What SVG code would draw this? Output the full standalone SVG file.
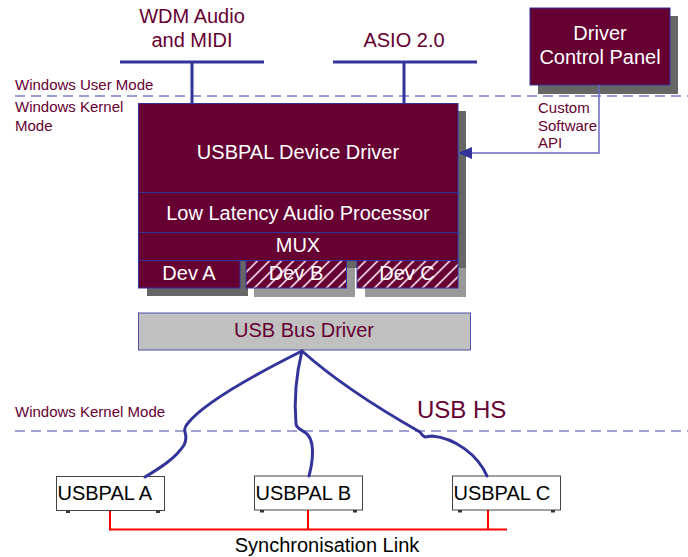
<svg xmlns="http://www.w3.org/2000/svg" width="688" height="557" viewBox="0 0 688 557">
<style>
.lbl{font-family:"Liberation Sans",Arial,sans-serif;fill:#660033}
.wt{font-family:"Liberation Sans",Arial,sans-serif;fill:#ffffff;font-size:20px;text-anchor:middle}
.bk{font-family:"Liberation Sans",Arial,sans-serif;fill:#000000;font-size:20px}
.blk{fill:#660033;stroke:#333399;stroke-width:1}
.sd{fill:#666666}
.sl{fill:#999999}
.bus{stroke:#333399;stroke-width:3;fill:none}
.usb{stroke:#333399;stroke-width:3;fill:none;stroke-linecap:round}
.pal{fill:#ffffff;stroke:#444444;stroke-width:1}
.foot{fill:#333333}
.sync{stroke:#ff0000;stroke-width:2;fill:none}
</style>
<defs>
<pattern id="hatch" patternUnits="userSpaceOnUse" width="8.5" height="8.5" patternTransform="rotate(45)">
<rect width="8.5" height="8.5" fill="#660033"/>
<line x1="1" y1="0" x2="1" y2="8.5" stroke="#e8c8d8" stroke-width="1.8"/>
</pattern>
<marker id="arr" markerWidth="14" markerHeight="12" refX="14" refY="6" orient="auto" markerUnits="userSpaceOnUse">
<path d="M0,0 L14,6 L0,12 Z" fill="#333399"/>
</marker>
</defs>
<rect width="688" height="557" fill="#ffffff"/>

<g id="mode-lines">
<line x1="15" y1="96" x2="688" y2="96" stroke="#3838a8" stroke-width="1" stroke-dasharray="10,6"/>
<line x1="15" y1="431" x2="688" y2="431" stroke="#8484c4" stroke-width="1.5" stroke-dasharray="10,6"/>
<text class="lbl" x="15" y="90" font-size="15">Windows User Mode</text>
<text class="lbl" x="15" y="112" font-size="15">Windows Kernel</text>
<text class="lbl" x="15" y="131" font-size="15">Mode</text>
<text class="lbl" x="15" y="417" font-size="15">Windows Kernel Mode</text>
<text class="lbl" x="417" y="418" font-size="24">USB HS</text>
</g>

<g id="wdm">
<text class="lbl" x="192" y="23" font-size="20" text-anchor="middle">WDM Audio</text>
<text class="lbl" x="192" y="47" font-size="20" text-anchor="middle">and MIDI</text>
</g>
<g id="asio">
<text class="lbl" x="404" y="47" font-size="20" text-anchor="middle">ASIO 2.0</text>
</g>

<g id="control-panel">
<rect class="sd" x="538" y="16" width="140" height="78"/>
<rect class="blk" x="530" y="8" width="140" height="77"/>
<text class="wt" x="600" y="40">Driver</text>
<text class="wt" x="600" y="64">Control Panel</text>
</g>

<g id="device-driver">
<rect class="sd" x="146" y="111" width="320" height="157"/>
<rect class="sd" x="147" y="268" width="101" height="28"/>
<rect class="sl" x="254" y="268" width="101" height="29"/>
<rect class="sl" x="365" y="268" width="101" height="29"/>
<rect class="blk" x="138.5" y="103.5" width="319.5" height="89"/>
<text class="wt" x="298" y="159">USBPAL Device Driver</text>
</g>
<g id="llap">
<rect class="blk" x="138.5" y="192.5" width="319.5" height="40"/>
<text class="wt" x="298" y="220">Low Latency Audio Processor</text>
</g>
<g id="mux">
<rect class="blk" x="138.5" y="232.5" width="319.5" height="28"/>
<text class="wt" x="298" y="251.5">MUX</text>
</g>
<g id="dev-a">
<rect class="blk" x="138.5" y="260.5" width="101.5" height="27.5"/>
<text class="wt" x="189" y="280">Dev A</text>
</g>
<g id="dev-b">
<rect x="246" y="260.5" width="100.5" height="27.5" fill="url(#hatch)" stroke="#333399" stroke-width="1"/>
<text class="wt" x="296" y="280">Dev B</text>
</g>
<g id="dev-c">
<rect x="357" y="260.5" width="101" height="27.5" fill="url(#hatch)" stroke="#333399" stroke-width="1"/>
<text class="wt" x="407" y="280">Dev C</text>
</g>

<g id="usb-bus-driver">
<rect x="138.5" y="313" width="332" height="37" fill="#c0c0c0" stroke="#5050a8" stroke-width="1"/>
<text class="lbl" x="304" y="337" font-size="20" text-anchor="middle">USB Bus Driver</text>
</g>

<g id="usbpal-a">
<rect class="pal" x="56.5" y="476.5" width="108" height="34"/>
<rect class="foot" x="66" y="510.5" width="4" height="2.5"/>
<rect class="foot" x="156" y="510.5" width="4" height="2.5"/>
<text class="bk" x="57.5" y="500">USBPAL A</text>
</g>
<g id="usbpal-b">
<rect class="pal" x="254.5" y="476" width="108" height="34"/>
<rect class="foot" x="260" y="510" width="4" height="2.5"/>
<rect class="foot" x="353" y="510" width="4" height="2.5"/>
<text class="bk" x="255.5" y="499.5">USBPAL B</text>
</g>
<g id="usbpal-c">
<rect class="pal" x="452.5" y="476" width="108" height="34"/>
<rect class="foot" x="458" y="510" width="4" height="2.5"/>
<rect class="foot" x="551" y="510" width="4" height="2.5"/>
<text class="bk" x="453.5" y="499.5">USBPAL C</text>
</g>

<g id="sync-link">
<text class="bk" x="327" y="552" text-anchor="middle">Synchronisation Link</text>
</g>

<g id="connectors">
<path class="bus" d="M120,62 H264 M192,62 V103"/>
<path class="bus" d="M333,62 H477 M404,62 V103"/>
<path d="M599,85 V153 H458" fill="none" stroke="#6a6abe" stroke-width="1.5" marker-end="url(#arr)"/>
<text class="lbl" x="538" y="113" font-size="15">Custom</text>
<text class="lbl" x="538" y="131" font-size="15">Software</text>
<text class="lbl" x="538" y="148" font-size="15">API</text>
<path class="usb" d="M302,351 C260,372 205,402 188,423 C180,432 190,434 184,445 C176,458 160,468 145,477"/>
<path class="usb" d="M302,351 C296,375 294,400 296,424 C297,432 309,428 312,445 C314,458 311,468 309,476"/>
<path class="usb" d="M302,351 C340,385 390,415 420,432 C425,440 427,436 432,436 C455,438 478,455 487,476"/>
<path class="sync" d="M110,511 V529.5 H507 M308,510 V529.5 M488,510 V529.5"/>
</g>
</svg>
